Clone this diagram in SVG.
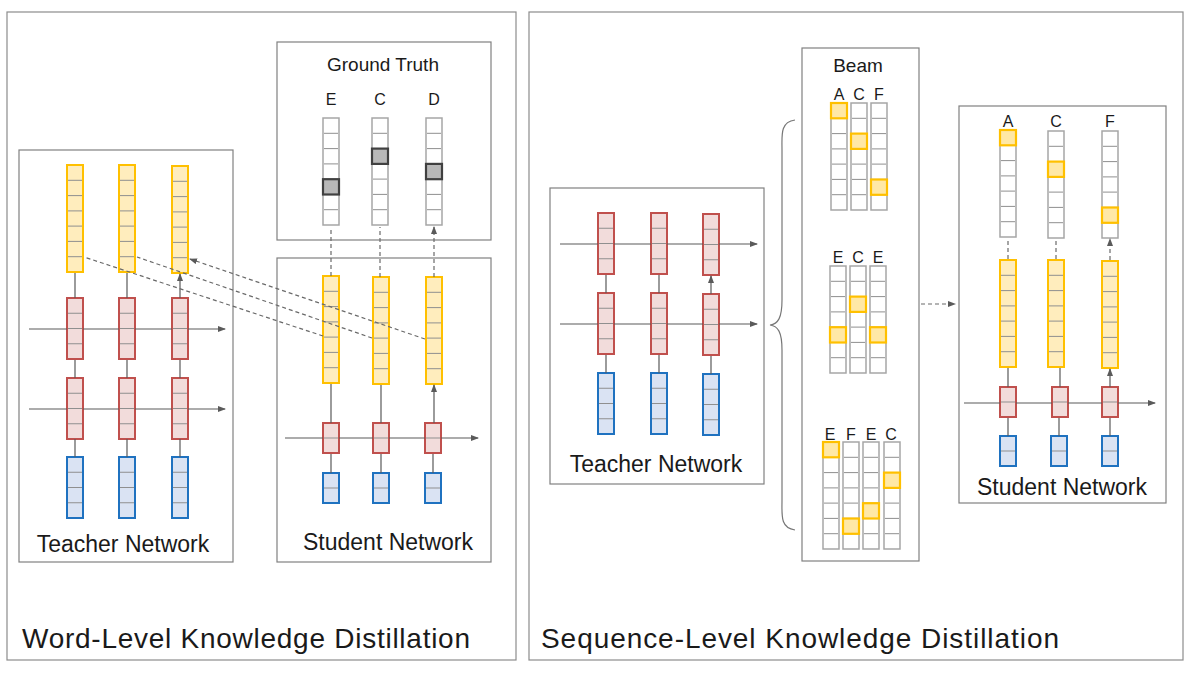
<svg xmlns="http://www.w3.org/2000/svg" xmlns:xlink="http://www.w3.org/1999/xlink" width="1192" height="688" viewBox="0 0 1192 688">
<style>
.frame{fill:#fff;stroke:#8c8c8c;stroke-width:1.2}
.box{fill:#fff;stroke:#808080;stroke-width:1.2}
.t{font-family:"Liberation Sans",Arial,sans-serif;fill:#1a1a1a}
.lbl{font-size:16px;text-anchor:middle}
.net{font-size:23px;text-anchor:middle}
.big{font-size:28px}
.ar{stroke:#5a5a5a;stroke-width:1.2;fill:none;marker-end:url(#ah)}
.da{stroke:#6a6a6a;stroke-width:1.2;fill:none;stroke-dasharray:4 3;marker-end:url(#ah)}
.dv{stroke:#8f8f8f;stroke-width:1}
</style>
<defs>
<marker id="ah" markerWidth="8" markerHeight="6" refX="7" refY="3" orient="auto" markerUnits="userSpaceOnUse"><path d="M0,0 L8,3 L0,6 Z" fill="#5a5a5a"/></marker>
<g id="y7"><rect x="0" y="0" width="16" height="107" fill="#FFEDBD" stroke="#FFC000" stroke-width="2"/><path class="dv" d="M1 15.3H15M1 30.6H15M1 45.9H15M1 61.1H15M1 76.4H15M1 91.7H15"/></g>
<g id="g7"><rect x="0" y="0" width="16" height="107" fill="#fff" stroke="#A6A6A6" stroke-width="1.5"/><path class="dv" d="M1 15.3H15M1 30.6H15M1 45.9H15M1 61.1H15M1 76.4H15M1 91.7H15"/></g>
<g id="r4"><rect x="0" y="0" width="16" height="61" fill="#F2DCDB" stroke="#C0504D" stroke-width="2"/><path class="dv" d="M1 15.25H15M1 30.5H15M1 45.75H15"/></g>
<g id="b4"><rect x="0" y="0" width="16" height="61" fill="#DAE3F3" stroke="#1F72C0" stroke-width="2"/><path class="dv" d="M1 15.25H15M1 30.5H15M1 45.75H15"/></g>
<g id="r2"><rect x="0" y="0" width="16" height="30" fill="#F2DCDB" stroke="#C0504D" stroke-width="2"/><path class="dv" d="M1 15H15"/></g>
<g id="b2"><rect x="0" y="0" width="16" height="30" fill="#DAE3F3" stroke="#1F72C0" stroke-width="2"/><path class="dv" d="M1 15H15"/></g>
<rect id="hy" x="0" y="0" width="16" height="15.3" fill="#FFE8A6" stroke="#FFC000" stroke-width="2.2"/>
<rect id="hg" x="0" y="0" width="16" height="15.3" fill="#B8B8B8" stroke="#404040" stroke-width="2.2"/>
</defs>
<rect width="1192" height="688" fill="#fff"/>
<g id="panel-word">
<rect class="frame" x="7" y="12" width="509" height="648"/>
<text class="t big" x="22" y="648" textLength="448">Word-Level Knowledge Distillation</text>
</g>
<g id="panel-seq">
<rect class="frame" x="529" y="12" width="654" height="648"/>
<text class="t big" x="541" y="648" textLength="518">Sequence-Level Knowledge Distillation</text>
</g>

<g id="teacher-word">
<rect class="box" x="19" y="150" width="214" height="412"/>
<use href="#y7" x="67" y="165"/><use href="#y7" x="119" y="165"/><use href="#y7" x="172" y="166"/>
<use href="#r4" x="67" y="298"/><use href="#r4" x="119" y="298"/><use href="#r4" x="172" y="298"/>
<use href="#r4" x="67" y="378"/><use href="#r4" x="119" y="378"/><use href="#r4" x="172" y="378"/>
<use href="#b4" x="67" y="457"/><use href="#b4" x="119" y="457"/><use href="#b4" x="172" y="457"/>
<text class="t net" x="123" y="552">Teacher Network</text>
</g>
<g id="ground-truth">
<rect class="box" x="277" y="42" width="214" height="198"/>
<text class="t" x="383" y="71" font-size="19" text-anchor="middle">Ground Truth</text>
<text class="t lbl" x="331" y="105">E</text><text class="t lbl" x="380" y="105">C</text><text class="t lbl" x="434" y="105">D</text>
<use href="#g7" x="323" y="118"/><use href="#g7" x="372" y="118"/><use href="#g7" x="426" y="118"/>
<use href="#hg" x="323" y="179.2"/><use href="#hg" x="372" y="148.6"/><use href="#hg" x="426" y="163.9"/>
</g>
<g id="student-word">
<rect class="box" x="277" y="258" width="214" height="304"/>
<use href="#y7" x="323" y="276"/><use href="#y7" x="373" y="277"/><use href="#y7" x="426" y="277"/>
<use href="#r2" x="323" y="423"/><use href="#r2" x="373" y="423"/><use href="#r2" x="425" y="423"/>
<use href="#b2" x="323" y="473"/><use href="#b2" x="373" y="473"/><use href="#b2" x="425" y="473"/>
<text class="t net" x="388" y="550">Student Network</text>
</g>

<g id="teacher-seq">
<rect class="box" x="550" y="188" width="214" height="296"/>
<use href="#r4" x="598" y="213"/><use href="#r4" x="651" y="213"/><use href="#r4" x="703" y="214"/>
<use href="#r4" x="598" y="293"/><use href="#r4" x="651" y="293"/><use href="#r4" x="703" y="294"/>
<use href="#b4" x="598" y="373"/><use href="#b4" x="651" y="373"/><use href="#b4" x="703" y="374"/>
<text class="t net" x="656" y="472">Teacher Network</text>
</g>
<g id="beam">
<rect class="box" x="802" y="48" width="117" height="513"/>
<text class="t" x="858" y="72" font-size="19" text-anchor="middle">Beam</text>
<text class="t lbl" x="839" y="100">A</text><text class="t lbl" x="859" y="100">C</text><text class="t lbl" x="879" y="100">F</text>
<use href="#g7" x="831" y="103"/><use href="#g7" x="851" y="103"/><use href="#g7" x="871" y="103"/>
<use href="#hy" x="831" y="103"/><use href="#hy" x="851" y="133.6"/><use href="#hy" x="871" y="179.5"/>
<text class="t lbl" x="838" y="263">E</text><text class="t lbl" x="858" y="263">C</text><text class="t lbl" x="878" y="263">E</text>
<use href="#g7" x="830" y="266"/><use href="#g7" x="850" y="266"/><use href="#g7" x="870" y="266"/>
<use href="#hy" x="830" y="327.2"/><use href="#hy" x="850" y="296.6"/><use href="#hy" x="870" y="327.2"/>
<text class="t lbl" x="830" y="440">E</text><text class="t lbl" x="851" y="440">F</text><text class="t lbl" x="871" y="440">E</text><text class="t lbl" x="891" y="440">C</text>
<use href="#g7" x="823" y="442"/><use href="#g7" x="843" y="442"/><use href="#g7" x="863" y="442"/><use href="#g7" x="884" y="442"/>
<use href="#hy" x="823" y="442"/><use href="#hy" x="843" y="518.5"/><use href="#hy" x="863" y="503.2"/><use href="#hy" x="884" y="472.6"/>
</g>
<g id="student-seq">
<rect class="box" x="959" y="106" width="207" height="397"/>
<text class="t lbl" x="1008" y="127">A</text><text class="t lbl" x="1056" y="127">C</text><text class="t lbl" x="1110" y="127">F</text>
<use href="#g7" x="1000" y="130"/><use href="#g7" x="1048" y="131"/><use href="#g7" x="1102" y="131"/>
<use href="#hy" x="1000" y="130"/><use href="#hy" x="1048" y="161.6"/><use href="#hy" x="1102" y="207.5"/>
<use href="#y7" x="1000" y="260"/><use href="#y7" x="1048" y="260"/><use href="#y7" x="1102" y="261"/>
<use href="#r2" x="1000" y="387"/><use href="#r2" x="1052" y="387"/><use href="#r2" x="1102" y="387"/>
<use href="#b2" x="1000" y="436"/><use href="#b2" x="1051" y="436"/><use href="#b2" x="1102" y="436"/>
<text class="t net" x="1062" y="495">Student Network</text>
</g>

<g id="connectors">
<!-- teacher word -->
<path class="ar" d="M29 329H67M83 329H119M135 329H172M188 329H225"/>
<path class="ar" d="M29 409H67M83 409H119M135 409H172M188 409H225"/>
<path class="ar" d="M75 457V439M127 457V439M180 457V439M75 378V360M127 378V360M180 378V360M75 298V273M127 298V273M180 298V274"/>
<!-- student word -->
<path class="ar" d="M285 438H323M339 438H373M389 438H425M441 438H478"/>
<path class="ar" d="M331 473V454M381 473V454M433 473V454M331 423V384M381 423V385M434 423V385"/>
<path class="da" d="M331 276V227M380 277V227M434 277V227"/>
<path class="da" d="M323 336L84 257M372 338L137 257M425 339L190 259"/>
<!-- teacher seq -->
<path class="ar" d="M560 244H598M614 244H651M667 244H703M719 244H757"/>
<path class="ar" d="M560 324H598M614 324H651M667 324H703M719 324H757"/>
<path class="ar" d="M606 373V355M659 373V355M711 374V356M606 293V275M659 293V275M711 294V276"/>
<!-- brace -->
<path d="M795 120 C780 122 782 135 782 150 L782 300 C782 318 778 324 770 325 C778 326 782 332 782 350 L782 500 C782 515 780 528 795 530" fill="none" stroke="#777" stroke-width="1.2"/>
<path class="da" d="M921 304H955"/>
<!-- student seq -->
<path class="ar" d="M964 403H1000M1016 403H1052M1068 403H1102M1118 403H1155"/>
<path class="ar" d="M1008 436V418M1059 436V418M1110 436V418M1008 387V368M1060 387V368M1110 387V369"/>
<path class="da" d="M1008 259V239M1056 259V239M1110 260V239"/>
</g>
</svg>
